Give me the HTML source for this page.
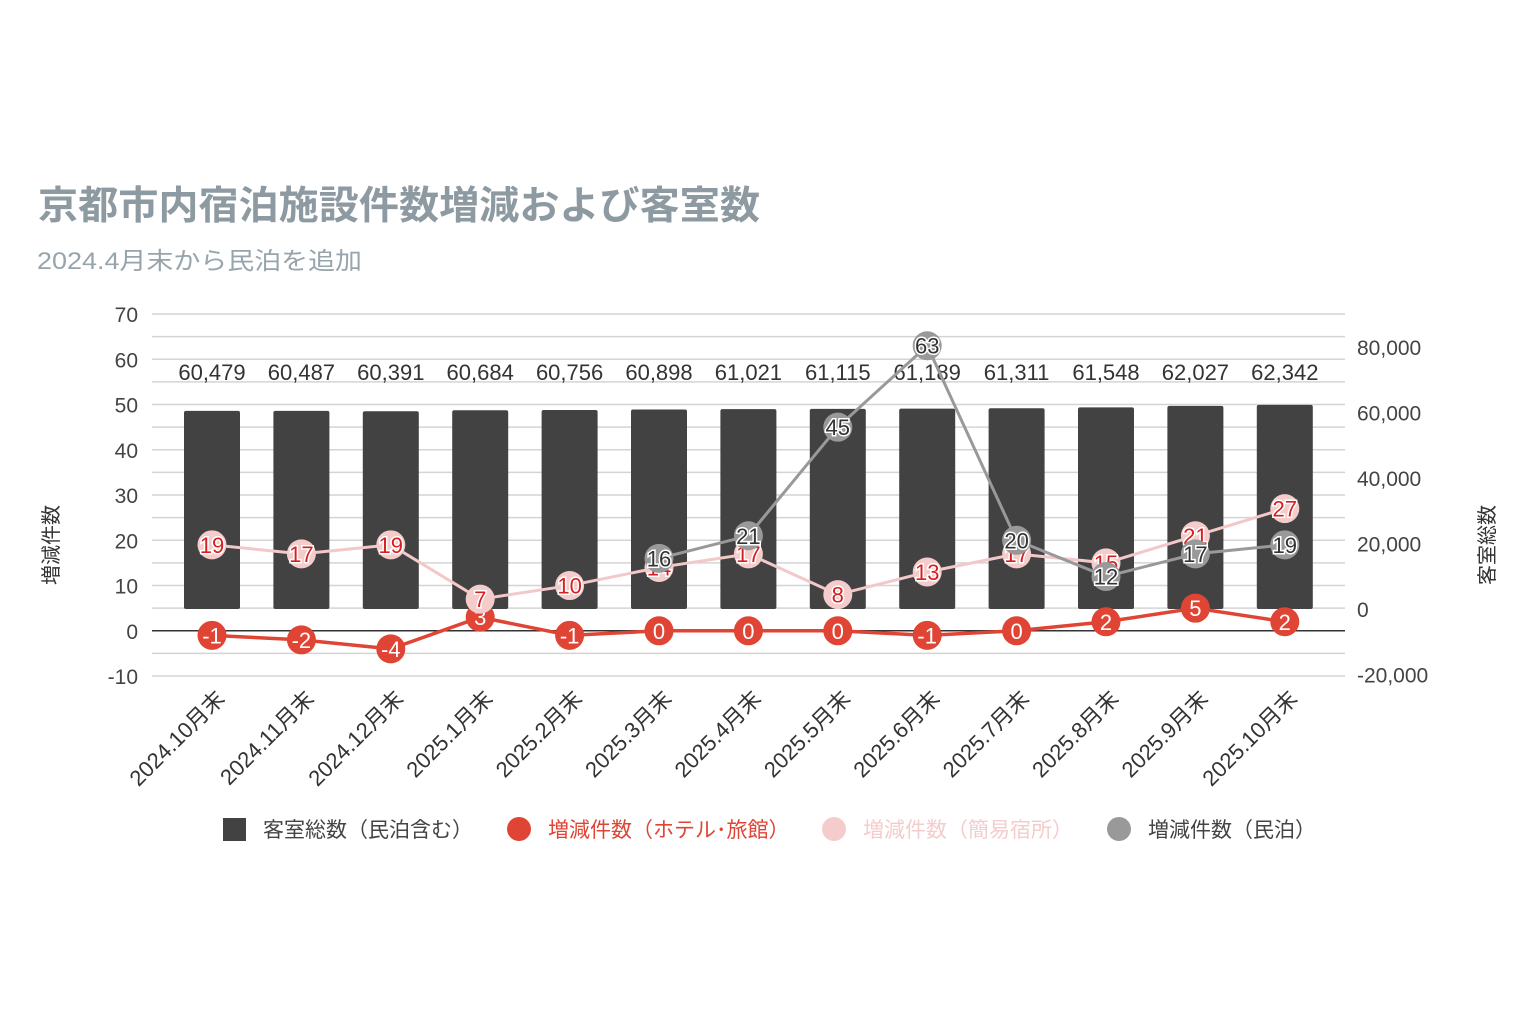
<!DOCTYPE html>
<html><head><meta charset="utf-8">
<style>
html,body{margin:0;padding:0;background:#fff;}
svg{display:block;font-family:"Liberation Sans","Noto Sans CJK JP",sans-serif;}
</style></head>
<body>
<svg id="c" width="1536" height="1024" xmlns="http://www.w3.org/2000/svg"></svg>
<script>
const s=document.getElementById('c');
let h='';
h+='<text x="38" y="219" font-size="39" font-weight="bold" fill="#8e9aa1" textLength="722" lengthAdjust="spacingAndGlyphs">京都市内宿泊施設件数増減および客室数</text>';
h+='<text x="37" y="269" font-size="24" fill="#97a4ab" textLength="325" lengthAdjust="spacingAndGlyphs">2024.4月末から民泊を追加</text>';
const yL=v=>630.8-v*4.525, yR=v=>609-v*0.003275;
for(let v=-10;v<=70;v+=5){const y=yL(v);h+=`<line x1="152" x2="1345" y1="${y}" y2="${y}" stroke="${v==0?'#333':'#d4d4d4'}" stroke-width="1.5"/>`;}
for(let v=-10;v<=70;v+=10){h+=`<text x="138" y="${yL(v)+8}" font-size="21" fill="#444" text-anchor="end">${v}</text>`;}
for(let v=-20000;v<=80000;v+=20000){h+=`<text x="1357" y="${yR(v)+8}" font-size="21" fill="#444">${v.toLocaleString('en-US')}</text>`;}
h+='<text transform="translate(58,545) rotate(-90)" font-size="20" fill="#333" text-anchor="middle">増減件数</text>';
h+='<text transform="translate(1494,545) rotate(-90)" font-size="20" fill="#333" text-anchor="middle">客室総数</text>';
const labs=['2024.10月末','2024.11月末','2024.12月末','2025.1月末','2025.2月末','2025.3月末','2025.4月末','2025.5月末','2025.6月末','2025.7月末','2025.8月末','2025.9月末','2025.10月末'];
const bars=[60479,60487,60391,60684,60756,60898,61021,61115,61189,61311,61548,62027,62342];
const red=[-1,-2,-4,3,-1,0,0,0,-1,0,2,5,2];
const pink=[19,17,19,7,10,14,17,8,13,17,15,21,27];
const gray=[null,null,null,null,null,16,21,45,63,20,12,17,19];
const X=i=>212+i*89.4;
bars.forEach((b,i)=>{const x=X(i),y=yR(b);
h+=`<rect x="${x-28}" y="${y}" width="56" height="${609-y}" rx="2" fill="#424242"/>`;
h+=`<text x="${x}" y="380" font-size="22" fill="#333" text-anchor="middle">${b.toLocaleString('en-US')}</text>`;
h+=`<text transform="translate(${X(i)+14},700) rotate(-45)" font-size="22" fill="#333" text-anchor="end">${labs[i]}</text>`;});
function series(arr,col,w){let p=[];arr.forEach((v,i)=>{if(v!==null)p.push(X(i)+','+yL(v));});h+=`<polyline points="${p.join(' ')}" fill="none" stroke="${col}" stroke-width="${w}"/>`;}
function dots(arr,fill,tc,sc){arr.forEach((v,i)=>{if(v===null)return;const x=X(i),y=yL(v);
h+=`<circle cx="${x}" cy="${y}" r="14.5" fill="${fill}"/>`;
h+=`<text x="${x}" y="${y+8}" font-size="22" fill="${tc}" text-anchor="middle" stroke="${sc}" stroke-width="3" paint-order="stroke">${v}</text>`;});}
series(pink,'#f2c8c8',3);series(red,'#e04434',3.5);series(gray,'#999',3);
dots(red,'#e04434','#fff','#e04434');
dots(pink,'#f5cccc','#d42020','#fff');
dots(gray,'#999','#333','#fff');
h+='<rect x="223" y="818" width="23" height="23" fill="#424242"/><text x="263" y="837" font-size="21" fill="#444">客室総数（民泊含む）</text>';
h+='<circle cx="519" cy="829" r="12" fill="#e04434"/><text x="548" y="837" font-size="21" fill="#e04434">増減件数（ホテル･旅館）</text>';
h+='<circle cx="834" cy="829" r="12" fill="#f5cccc"/><text x="863" y="837" font-size="21" fill="#f5cccc">増減件数（簡易宿所）</text>';
h+='<circle cx="1119" cy="829" r="12" fill="#999"/><text x="1148" y="837" font-size="21" fill="#444">増減件数（民泊）</text>';
s.innerHTML=h;
</script>
</body></html>
